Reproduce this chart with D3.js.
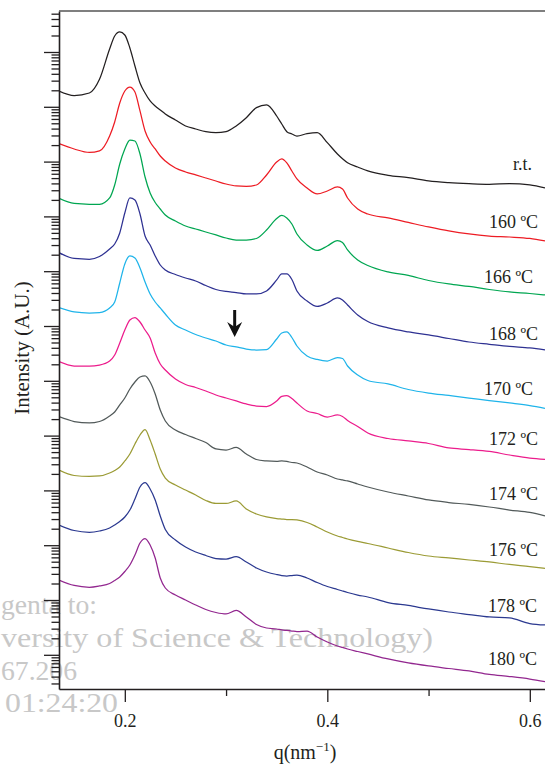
<!DOCTYPE html>
<html><head><meta charset="utf-8">
<script src="https://cdn.jsdelivr.net/npm/d3@7"></script>
<style>
body{margin:0;background:#fff}
svg{display:block;font-family:"Liberation Serif","Times New Roman",Times,serif}
text{font-family:"Liberation Serif","Times New Roman",Times,serif}
</style>
</head><body>
<svg id="chart" width="545" height="767" font-family="Liberation Serif, Times New Roman, serif"></svg>
<script>
// q (nm^-1) sampling grid shared by all curves
const q = [0.135,0.15,0.165,0.175,0.185,0.19,0.195,0.20,0.205,0.21,0.215,0.22,0.225,0.23,0.235,0.24,0.25,0.26,0.27,0.28,0.29,0.30,0.31,0.32,0.33,0.34,0.35,0.355,0.36,0.365,0.37,0.38,0.39,0.40,0.41,0.415,0.42,0.43,0.44,0.46,0.48,0.50,0.52,0.54,0.56,0.58,0.60,0.615];

// log10 of (offset-stacked) intensity, A.U.
const logI_rt  = [11.288,11.206,11.252,11.502,12.055,12.292,12.365,12.310,12.073,11.745,11.434,11.252,11.106,11.015,10.942,10.869,10.759,10.650,10.595,10.546,10.528,10.546,10.650,10.801,10.984,11.033,10.832,10.686,10.546,10.504,10.467,10.509,10.528,10.345,10.139,10.053,9.980,9.902,9.829,9.750,9.706,9.646,9.615,9.597,9.586,9.597,9.573,9.518];
const logI_160 = [10.327,10.230,10.166,10.194,10.467,10.723,11.069,11.288,11.361,11.270,10.924,10.559,10.358,10.230,10.102,10.011,9.883,9.810,9.756,9.701,9.646,9.591,9.555,9.546,9.573,9.756,9.993,10.048,9.975,9.829,9.683,9.518,9.409,9.464,9.537,9.500,9.336,9.135,9.044,8.971,8.889,8.807,8.734,8.679,8.642,8.624,8.597,8.551];
const logI_166 = [9.330,9.236,9.221,9.221,9.336,9.573,9.956,10.230,10.394,10.376,10.139,9.719,9.427,9.254,9.135,9.026,8.916,8.825,8.770,8.715,8.661,8.606,8.569,8.569,8.597,8.752,8.962,9.017,8.971,8.861,8.679,8.478,8.378,8.460,8.560,8.524,8.387,8.205,8.104,7.986,7.922,7.830,7.767,7.721,7.666,7.621,7.593,7.566];
const logI_168 = [8.338,8.232,8.217,8.268,8.405,8.496,8.697,9.062,9.336,9.299,9.044,8.642,8.478,8.278,8.113,8.022,7.940,7.876,7.821,7.739,7.666,7.630,7.611,7.584,7.584,7.639,7.840,7.949,7.949,7.849,7.639,7.456,7.356,7.420,7.511,7.475,7.383,7.201,7.082,6.964,6.891,6.836,6.772,6.708,6.666,6.626,6.599,6.562];
const logI_170 = [7.334,7.256,7.237,7.246,7.329,7.438,7.785,8.132,8.278,8.241,8.059,7.803,7.584,7.438,7.329,7.219,7.018,6.927,6.845,6.781,6.726,6.653,6.617,6.580,6.562,6.571,6.763,6.872,6.891,6.790,6.635,6.453,6.389,6.361,6.425,6.407,6.270,6.106,6.006,5.942,5.841,5.777,5.732,5.686,5.637,5.595,5.549,5.498];
const logI_172 = [6.349,6.270,6.270,6.288,6.361,6.471,6.690,6.927,7.110,7.155,7.073,6.927,6.781,6.507,6.307,6.197,6.033,5.933,5.878,5.814,5.741,5.686,5.632,5.577,5.540,5.531,5.632,5.714,5.728,5.677,5.595,5.449,5.403,5.339,5.376,5.349,5.276,5.166,5.048,4.947,4.902,4.856,4.774,4.746,4.710,4.646,4.591,4.568];
const logI_174 = [5.345,5.257,5.230,5.257,5.358,5.431,5.559,5.686,5.851,5.978,6.069,6.088,5.978,5.759,5.467,5.267,5.102,5.020,4.947,4.874,4.756,4.737,4.783,4.664,4.564,4.537,4.528,4.537,4.528,4.509,4.500,4.427,4.336,4.281,4.208,4.190,4.172,4.117,4.062,3.971,3.898,3.825,3.779,3.743,3.697,3.642,3.597,3.533];
const logI_176 = [4.372,4.272,4.254,4.263,4.318,4.363,4.427,4.537,4.664,4.847,5.011,5.111,4.920,4.664,4.391,4.226,4.099,4.007,3.916,3.816,3.761,3.761,3.807,3.661,3.569,3.515,3.487,3.478,3.469,3.469,3.460,3.414,3.332,3.241,3.168,3.141,3.113,3.068,3.031,2.949,2.867,2.803,2.767,2.730,2.694,2.648,2.611,2.579];
const logI_178 = [3.369,3.268,3.236,3.259,3.314,3.369,3.433,3.515,3.642,3.843,4.062,4.141,4.026,3.825,3.533,3.287,3.095,2.967,2.876,2.812,2.757,2.748,2.790,2.694,2.584,2.511,2.465,2.447,2.438,2.447,2.456,2.402,2.319,2.246,2.192,2.164,2.137,2.091,2.055,1.954,1.900,1.836,1.781,1.735,1.690,1.672,1.571,1.544];
const logI_180 = [2.365,2.265,2.232,2.256,2.301,2.356,2.420,2.520,2.639,2.821,3.040,3.122,3.004,2.767,2.402,2.219,2.091,2.000,1.909,1.827,1.772,1.745,1.809,1.690,1.553,1.489,1.471,1.453,1.444,1.434,1.425,1.434,1.325,1.234,1.161,1.133,1.106,1.060,1.015,0.924,0.851,0.796,0.750,0.705,0.641,0.604,0.558,0.509];

const seriesNames  = ["r.t.","160 ºC","166 ºC","168 ºC","170 ºC","172 ºC","174 ºC","176 ºC","178 ºC","180 ºC"];
const seriesColors = ["#231f20","#ed1c24","#00a651","#2e3192","#1fb4ea","#ec1c8c","#525a5a","#9b9b35","#2b3990","#92278f"];
// label anchor (right end, q) and baseline (log10 intensity)
const labelQ    = [0.6022,0.6081,0.6032,0.6081,0.6032,0.6081,0.6081,0.6081,0.6071,0.6071];
const labelLogI = [9.847,8.788,7.785,6.745,5.741,4.829,3.825,2.803,1.790,0.814];

const xDomain = [0.135, 0.615];
const yLogDomain = [0.376, 12.748];
const xMajorTicks = [0.2, 0.4, 0.6];
const xMinorTicks = [0.3, 0.5];
const xTickLabels = ["0.2","0.4","0.6"];

// annotation arrow
const arrowQ = 0.3085, arrowLogTop = 7.292, arrowLogTip = 6.799;

// watermark lines (visible parts)
const watermark = ["genta to:", "versity of Science & Technology)", "67.206", "01:24:20"];

const allLogI = [logI_rt,logI_160,logI_166,logI_168,logI_170,logI_172,logI_174,logI_176,logI_178,logI_180];
const series = seriesNames.map((name,i)=>({name, color:seriesColors[i],
  points:q.map((qq,j)=>({q:qq, I:Math.pow(10, allLogI[i][j])}))}));

const FONT = '"Liberation Serif","Times New Roman",Times,serif';
const svg = d3.select("#chart");
const L = 59, R = 545, T = 11, B = 689;
const x = d3.scaleLinear().domain(xDomain).range([L, R]);
const y = d3.scaleLog().domain(yLogDomain.map(v=>Math.pow(10,v))).range([B, T]);

// watermark (x start, baseline, rendered width)
const wm = svg.append("g").attr("fill","#c8c8c8").attr("font-size",28).attr("font-family",FONT);
const wmPos = [[1,614,96],[1,647,432],[1,680,76],[5,712,113]];
watermark.forEach((t,i)=>wm.append("text").attr("x",wmPos[i][0]).attr("y",wmPos[i][1])
  .attr("textLength",wmPos[i][2]).attr("lengthAdjust","spacingAndGlyphs").text(t));

// curves
svg.append("clipPath").attr("id","clip").append("rect")
  .attr("x",L).attr("y",T).attr("width",R-L).attr("height",B-T);
const line = d3.line().curve(d3.curveMonotoneX).x(d=>x(d.q)).y(d=>y(d.I));
svg.append("g").attr("clip-path","url(#clip)").selectAll("path").data(series).join("path")
  .attr("d",d=>line(d.points)).attr("fill","none").attr("stroke",d=>d.color)
  .attr("stroke-width",1.25).attr("stroke-linejoin","round");

// labels
svg.append("g").attr("font-size",18).attr("fill","#231f20").attr("text-anchor","end").attr("font-family",FONT)
  .selectAll("text").data(series).join("text")
  .attr("x",(d,i)=>x(labelQ[i])).attr("y",(d,i)=>y(Math.pow(10,labelLogI[i])))
  .text(d=>d.name);

// y axis ticks (log)
const decades = d3.range(0, 13);
const inY = v => v >= y.domain()[0] && v <= y.domain()[1];
const yMajor = decades.map(n=>Math.pow(10,n)).filter(inY);
const yMinor = decades.flatMap(n=>d3.range(2,10).map(k=>k*Math.pow(10,n))).filter(inY);
const yAxMaj = svg.append("g").attr("transform",`translate(${L},0)`)
  .call(d3.axisLeft(y).tickValues(yMajor).tickSize(15).tickSizeOuter(0).tickFormat(""));
const yAxMin = svg.append("g").attr("transform",`translate(${L},0)`)
  .call(d3.axisLeft(y).tickValues(yMinor).tickSize(7.5).tickSizeOuter(0).tickFormat(""));
yAxMin.select(".domain").remove();
[yAxMaj,yAxMin].forEach(g=>{g.selectAll("line").attr("stroke","#231f20").attr("stroke-width",1.3);
  g.select(".domain").attr("stroke","#231f20").attr("stroke-width",1.6);});

// x axis
const xAxMaj = svg.append("g").attr("transform",`translate(0,${B})`)
  .call(d3.axisBottom(x).tickValues(xMajorTicks).tickSize(13).tickSizeOuter(0).tickPadding(12)
  .tickFormat((d,i)=>xTickLabels[i]));
const xAxMin = svg.append("g").attr("transform",`translate(0,${B})`)
  .call(d3.axisBottom(x).tickValues(xMinorTicks).tickSize(7).tickSizeOuter(0).tickFormat(""));
xAxMin.select(".domain").remove();
[xAxMaj,xAxMin].forEach(g=>{g.selectAll("line").attr("stroke","#231f20").attr("stroke-width",1.3);
  g.select(".domain").attr("stroke","#231f20").attr("stroke-width",1.6);});
xAxMaj.attr("font-family",FONT);
xAxMaj.selectAll("text").attr("font-size",18).attr("fill","#231f20").attr("font-family",FONT);

// top frame
svg.append("line").attr("x1",L).attr("x2",R).attr("y1",T).attr("y2",T)
  .attr("stroke","#555").attr("stroke-width",1.3);

// axis titles
const xt = svg.append("text").attr("x",305).attr("y",759).attr("text-anchor","middle")
  .attr("font-size",20).attr("fill","#231f20").attr("font-family",FONT);
xt.append("tspan").text("q(nm");
xt.append("tspan").attr("font-size",13).attr("dy",-8).text("−1");
xt.append("tspan").attr("dy",8).text(")");
svg.append("text").attr("transform","translate(29,348) rotate(-90)").attr("text-anchor","middle")
  .attr("font-size",21).attr("fill","#231f20").attr("font-family",FONT).text("Intensity (A.U.)");

// arrow annotation
const ax = x(arrowQ), ayTop = y(Math.pow(10,arrowLogTop)), ayTip = y(Math.pow(10,arrowLogTip));
svg.append("line").attr("x1",ax).attr("x2",ax).attr("y1",ayTop).attr("y2",ayTip-8)
  .attr("stroke","#111").attr("stroke-width",3);
svg.append("path").attr("fill","#111")
  .attr("d",`M${ax},${ayTip} L${ax-7.5},${ayTip-15} L${ax},${ayTip-10} L${ax+7.5},${ayTip-15} Z`);
</script>
</body></html>
